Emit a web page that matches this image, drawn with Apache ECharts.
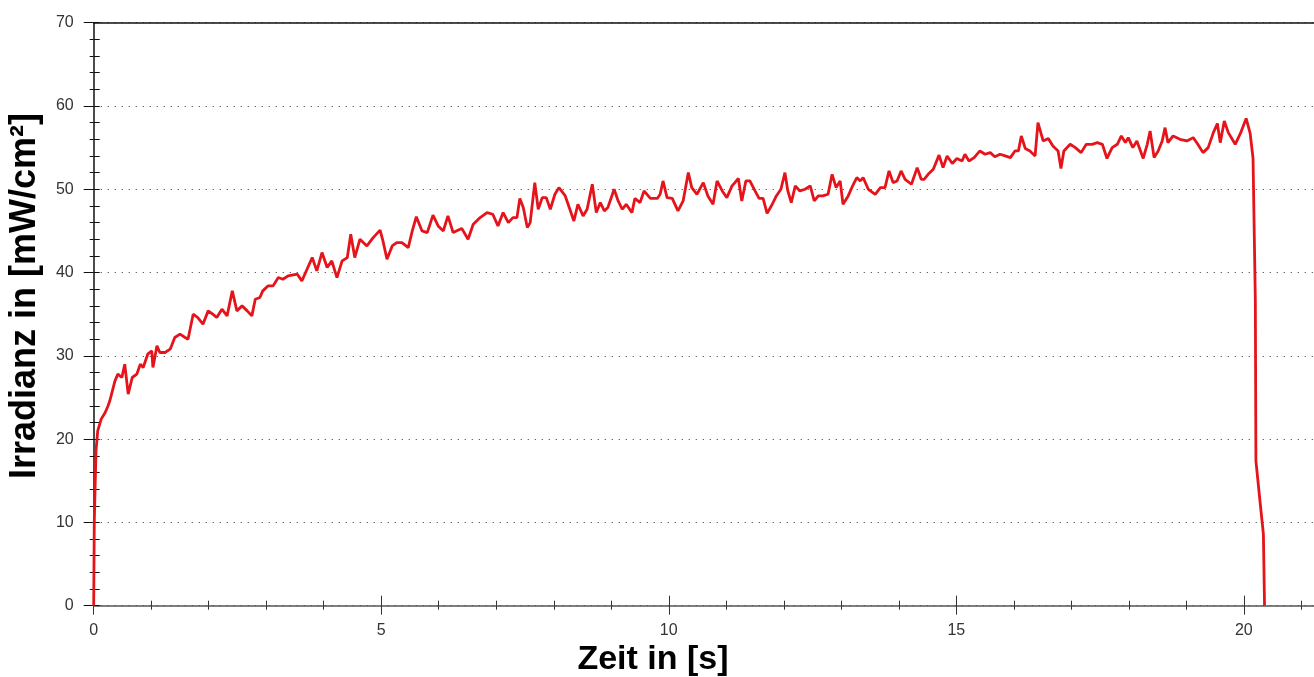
<!DOCTYPE html>
<html>
<head>
<meta charset="utf-8">
<title>Irradianz über Zeit</title>
<script src="https://cdn.jsdelivr.net/npm/echarts@6/dist/echarts.min.js"></script>
<style>
  html, body { margin: 0; padding: 0; background: #fff; }
  #chart { width: 1314px; height: 677px; }
</style>
</head>
<body>
<div id="chart"></div>
<script>
// Zeit in Sekunden
const timeS = [
  0.00, 0.01, 0.04, 0.07, 0.13, 0.20, 0.25, 0.28, 0.37, 0.42, 0.49, 0.54, 0.60, 0.67, 0.75, 0.81,
  0.86, 0.94, 1.01, 1.03, 1.10, 1.15, 1.24, 1.33, 1.41, 1.50, 1.59, 1.64, 1.73, 1.81, 1.90, 1.99,
  2.07, 2.14, 2.23, 2.32, 2.41, 2.49, 2.58, 2.67, 2.75, 2.81, 2.89, 2.94, 3.03, 3.12, 3.21, 3.29,
  3.38, 3.54, 3.62, 3.71, 3.80, 3.88, 3.97, 4.06, 4.14, 4.23, 4.32, 4.41, 4.47, 4.54, 4.63, 4.75,
  4.86, 4.98, 5.03, 5.10, 5.19, 5.27, 5.36, 5.47, 5.54, 5.61, 5.71, 5.80, 5.90, 5.99, 6.08, 6.16,
  6.25, 6.40, 6.51, 6.60, 6.72, 6.84, 6.94, 7.03, 7.12, 7.21, 7.29, 7.36, 7.41, 7.47, 7.54, 7.59,
  7.67, 7.73, 7.80, 7.87, 7.94, 8.02, 8.09, 8.20, 8.28, 8.35, 8.42, 8.51, 8.58, 8.67, 8.74, 8.81,
  8.88, 8.94, 9.05, 9.12, 9.19, 9.26, 9.36, 9.41, 9.50, 9.57, 9.68, 9.80, 9.85, 9.90, 9.97, 10.06,
  10.16, 10.25, 10.34, 10.40, 10.49, 10.60, 10.68, 10.77, 10.84, 10.93, 11.01, 11.10, 11.15, 11.21, 11.27, 11.34,
  11.41, 11.50, 11.57, 11.64, 11.71, 11.80, 11.87, 11.95, 12.02, 12.07, 12.13, 12.20, 12.28, 12.37, 12.46, 12.53,
  12.60, 12.68, 12.77, 12.84, 12.91, 12.98, 13.03, 13.12, 13.21, 13.27, 13.33, 13.38, 13.47, 13.59, 13.68, 13.76,
  13.83, 13.90, 13.97, 14.04, 14.11, 14.22, 14.32, 14.39, 14.44, 14.51, 14.60, 14.70, 14.77, 14.84, 14.93, 15.01,
  15.10, 15.15, 15.22, 15.31, 15.41, 15.50, 15.59, 15.67, 15.76, 15.85, 15.94, 16.02, 16.08, 16.13, 16.20, 16.28,
  16.37, 16.42, 16.51, 16.60, 16.68, 16.77, 16.82, 16.87, 16.98, 17.07, 17.17, 17.26, 17.36, 17.45, 17.54, 17.62,
  17.71, 17.80, 17.87, 17.94, 17.99, 18.07, 18.14, 18.25, 18.32, 18.37, 18.44, 18.51, 18.58, 18.63, 18.68, 18.77,
  18.89, 19.01, 19.12, 19.20, 19.29, 19.38, 19.47, 19.54, 19.59, 19.66, 19.73, 19.85, 19.94, 20.04, 20.11, 20.16,
  20.20, 20.21, 20.28, 20.34, 20.36
];

// Irradianz in mW/cm²
const irradiance = [
  0.0, 10.0, 18.6, 21.0, 22.4, 23.2, 24.0, 24.6, 27.0, 27.8, 27.4, 29.0, 25.4, 27.4, 27.8, 29.0,
  28.6, 30.2, 30.6, 28.6, 31.2, 30.4, 30.4, 30.8, 32.2, 32.6, 32.2, 32.0, 35.0, 34.6, 33.8, 35.4,
  35.0, 34.6, 35.6, 34.8, 37.8, 35.4, 36.0, 35.4, 34.8, 36.8, 37.0, 37.8, 38.4, 38.4, 39.4, 39.2,
  39.6, 39.8, 39.0, 40.4, 41.8, 40.2, 42.4, 40.6, 41.4, 39.4, 41.4, 41.8, 44.6, 41.8, 44.0, 43.2,
  44.2, 45.1, 43.8, 41.6, 43.2, 43.6, 43.6, 43.0, 45.0, 46.7, 45.0, 44.8, 46.9, 45.6, 45.0, 46.8,
  44.8, 45.3, 44.0, 45.8, 46.6, 47.2, 47.0, 45.6, 47.2, 46.0, 46.6, 46.6, 48.9, 47.8, 45.4, 46.0,
  50.8, 47.6, 49.0, 49.0, 47.6, 49.4, 50.2, 49.2, 47.6, 46.2, 48.2, 46.8, 47.6, 50.6, 47.2, 48.4,
  47.4, 47.8, 50.0, 48.6, 47.6, 48.2, 47.2, 48.9, 48.4, 49.8, 48.9, 48.9, 49.4, 51.0, 49.0, 48.9,
  47.4, 48.6, 52.0, 50.2, 49.4, 50.8, 49.2, 48.2, 51.0, 49.8, 49.0, 50.4, 50.8, 51.3, 48.6, 51.0,
  51.0, 49.8, 48.9, 48.9, 47.1, 48.2, 49.2, 50.0, 52.0, 49.8, 48.4, 50.4, 49.8, 50.0, 50.4, 48.6,
  49.2, 49.2, 49.4, 51.8, 50.2, 51.0, 48.2, 49.2, 50.6, 51.4, 51.0, 51.4, 50.0, 49.4, 50.2, 50.2,
  52.2, 50.8, 51.0, 52.2, 51.2, 50.6, 52.6, 51.2, 51.2, 51.8, 52.4, 54.1, 52.6, 54.0, 53.1, 53.7,
  53.4, 54.2, 53.4, 53.8, 54.6, 54.2, 54.4, 53.9, 54.2, 54.0, 53.8, 54.6, 54.6, 56.4, 54.9, 54.6,
  54.0, 58.0, 55.8, 56.1, 55.2, 54.6, 52.5, 54.6, 55.4, 55.0, 54.4, 55.4, 55.4, 55.6, 55.4, 53.7,
  55.0, 55.4, 56.4, 55.6, 56.2, 55.0, 55.8, 53.7, 55.4, 57.0, 53.8, 54.6, 55.8, 57.4, 55.6, 56.4,
  56.0, 55.8, 56.2, 55.4, 54.4, 55.0, 56.8, 57.9, 55.6, 58.2, 56.8, 55.4, 56.7, 58.5, 56.7, 53.7,
  36.6, 17.4, 12.6, 8.6, 0.0
];

// Achsenbereiche und Beschriftungen
const xTitle = 'Zeit in [s]';
const yTitle = 'Irradianz in [mW/cm²]';
const xMax = 21.22;
const yMax = 70;

const seriesData = timeS.map((t, i) => [t, irradiance[i]]);

const FONT = '"Liberation Sans", Arial, sans-serif';
const chart = echarts.init(document.getElementById('chart'), null, { renderer: 'canvas' });

const hidden = { show: false };
function baseX(extra) {
  return Object.assign({
    type: 'value', position: 'bottom', min: 0, max: xMax, offset: 0,
    axisLine: hidden, axisLabel: hidden, splitLine: hidden, axisTick: hidden
  }, extra);
}

chart.setOption({
  animation: false,
  backgroundColor: '#ffffff',
  grid: {
    left: 93.7, right: 0, top: 22.7, bottom: 71.3,
    containLabel: false, outerBoundsMode: 'none'
  },
  xAxis: [
    // Hauptachse mit Beschriftung
    baseX({
      interval: 5,
      axisLine: { show: true, lineStyle: { color: '#555555', width: 1.5 } },
      axisTick: { show: true, inside: false, length: 9, lineStyle: { color: '#333333', width: 1 } },
      axisLabel: { show: true, showMaxLabel: false, margin: 17, color: '#333333', fontSize: 16, fontFamily: FONT }
    }),
    baseX({ interval: 5, axisTick: { show: true, inside: true, length: 10, lineStyle: { color: '#333333', width: 1 } } }),
    baseX({ interval: 1, axisTick: { show: true, inside: false, length: 4, lineStyle: { color: '#333333', width: 1 } } }),
    baseX({ interval: 1, axisTick: { show: true, inside: true, length: 5, lineStyle: { color: '#333333', width: 1 } } }),
    // obere Begrenzungslinie
    baseX({ position: 'top', axisLine: { show: true, lineStyle: { color: '#111111', width: 1.5 } } })
  ],
  yAxis: [
    {
      type: 'value', position: 'left', min: 0, max: yMax, interval: 10, offset: 0,
      axisLine: { show: true, lineStyle: { color: '#111111', width: 1.5 } },
      axisTick: { show: true, inside: false, length: 10, lineStyle: { color: '#111111', width: 1 } },
      minorTick: { show: true, splitNumber: 5, length: 4, lineStyle: { color: '#111111', width: 1 } },
      axisLabel: { show: true, margin: 20, color: '#333333', fontSize: 16, fontFamily: FONT },
      splitLine: {
        show: true,
        lineStyle: { color: '#555555', width: 1, type: [1.2, 5.8] }
      }
    },
    {
      type: 'value', position: 'left', min: 0, max: yMax, interval: 10, offset: 0,
      axisLine: hidden, axisLabel: hidden, splitLine: hidden,
      axisTick: { show: true, inside: true, length: 6, lineStyle: { color: '#111111', width: 1 } },
      minorTick: { show: true, splitNumber: 5, length: 6, lineStyle: { color: '#111111', width: 1 } }
    }
  ],
  // Achsentitel
  graphic: [
    {
      type: 'text', x: 653, y: 660,
      style: {
        text: xTitle, fill: '#000000', align: 'center', verticalAlign: 'middle',
        font: 'bold 34px ' + FONT
      }
    },
    {
      type: 'text', x: 25, y: 296, rotation: Math.PI / 2,
      style: {
        text: yTitle, fill: '#000000', align: 'center', verticalAlign: 'middle',
        font: 'bold 36px ' + FONT
      }
    }
  ],
  series: [{
    type: 'line',
    xAxisIndex: 0,
    yAxisIndex: 0,
    data: seriesData,
    showSymbol: false,
    smooth: false,
    lineStyle: { color: '#e5141b', width: 2.8 },
    z: 5
  }]
});
</script>
</body>
</html>
